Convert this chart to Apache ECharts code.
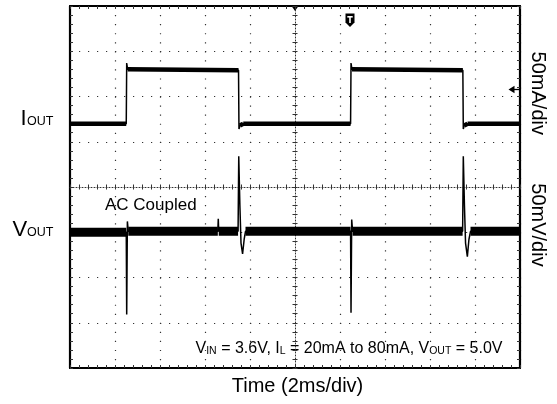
<!DOCTYPE html>
<html>
<head>
<meta charset="utf-8">
<script src="https://cdn.jsdelivr.net/npm/echarts@6/dist/echarts.min.js"></script>
<style>
  html, body { margin: 0; background: #fff; }
  #chart { width: 557px; height: 404px; }
</style>
</head>
<body>
<div id="chart"></div>
<script>
// load step 20mA <-> 80mA, time in ms (2 ms/div, 10 div)
const iTime = [0, 2.50, 2.52, 2.56, 7.49, 7.51, 7.55, 7.70, 12.47, 12.49, 12.53, 17.46, 17.48, 17.52, 17.67, 20];
const iOut = [20, 20, 87, 80, 79, 14, 18, 20, 20, 87, 80, 79, 14, 18, 20, 20]; // mA

// output ripple, AC coupled, mV
const vTime = [0, 2.50, 2.52, 2.55, 2.59, 6.57, 6.59, 6.61, 7.47, 7.50, 7.55, 7.60, 7.67, 7.74, 7.80,
  12.47, 12.49, 12.52, 12.56, 17.45, 17.48, 17.53, 17.58, 17.66, 17.73, 17.80, 20];
const vOut = [0, 0, -91, 12, 1, 1, 15, 1, 1, 84, 30, -12, -24, -8, 1,
  1, -89, 14, 1, 1, 84, 30, -12, -27, -8, 1, 1];

const F = "'Liberation Sans', Arial, sans-serif";
const black = "#000";
const dotGrey = "#333";

function zip(t, v) {
  return t.map((x, k) => [x, v[k]]);
}

// flat parts of a trace get the thick "noise" band, edges and spikes stay thin
function flatParts(t, v, tol) {
  const out = [];
  for (let k = 0; k < t.length - 1; k++) {
    if (Math.abs(v[k + 1] - v[k]) <= tol) {
      out.push([t[k], v[k]], [t[k + 1], v[k + 1]], [t[k + 1], "-"]);
    }
  }
  return out;
}

function edgeAxis(position, max, interval, split, dash) {
  return {
    type: "value",
    position: position,
    min: 0,
    max: max,
    interval: interval,
    axisLine: { show: true, onZero: false, lineStyle: { color: black, width: 2.2 } },
    axisTick: { show: true, inside: true, length: 3, lineStyle: { color: dotGrey } },
    minorTick: { show: true, splitNumber: 5, length: 3, lineStyle: { color: dotGrey } },
    axisLabel: { show: false },
    splitLine: { show: split, lineStyle: { color: dotGrey, width: 1.2, type: dash } },
  };
}

function centerAxis(position, max, interval, helper, inside, line) {
  return {
    type: "value",
    position: position,
    min: 0,
    max: max,
    interval: interval,
    axisLine: {
      show: line,
      onZero: true,
      onZeroAxisIndex: helper,
      lineStyle: { color: dotGrey, width: 1, type: [1, 2] },
    },
    axisTick: { show: true, inside: inside, length: 2.5, lineStyle: { color: dotGrey } },
    minorTick: { show: true, splitNumber: 5, length: 2.5, lineStyle: { color: dotGrey } },
    axisLabel: { show: false },
    splitLine: { show: false },
  };
}

function hiddenAxis(min, max) {
  return { type: "value", min: min, max: max, show: false, axisLine: { onZero: false } };
}

function txt(x, y, text, size, align) {
  return {
    type: "text",
    x: x,
    y: y,
    style: {
      text: text,
      fontSize: size,
      fontFamily: F,
      fill: black,
      align: align || "left",
      verticalAlign: "middle",
    },
  };
}

function sideTxt(y, text) {
  const el = txt(537.6, y, text, 20, "center");
  el.rotation = -Math.PI / 2;
  return el;
}

const options = {
  animation: false,
  backgroundColor: "#fff",
  grid: { left: 70, right: 37, top: 6, bottom: 36, containLabel: false, outerBoundsMode: "none" },
  xAxis: [
    edgeAxis("bottom", 20, 2, true, [1.2, 7.85]),
    edgeAxis("top", 20, 2, false),
    centerAxis("bottom", 20, 2, 4, true, true),
    centerAxis("bottom", 20, 2, 4, false, false),
    hiddenAxis(-10, 10),
  ],
  yAxis: [
    edgeAxis("left", 8, 1, true, [1.2, 7.8]),
    edgeAxis("right", 8, 1, false),
    hiddenAxis(-250, 150), // current, 50 mA/div
    hiddenAxis(-150, 250), // voltage, 50 mV/div
    hiddenAxis(-4, 4),
    centerAxis("left", 8, 1, 4, true, true),
    centerAxis("left", 8, 1, 4, false, false),
  ],
  series: [
    {
      name: "IOUT band",
      type: "line",
      xAxisIndex: 0,
      yAxisIndex: 2,
      data: flatParts(iTime, iOut, 2),
      symbol: "none",
      lineStyle: { color: black, width: 4.5 },
      silent: true,
      z: 3,
    },
    {
      name: "IOUT",
      type: "line",
      xAxisIndex: 0,
      yAxisIndex: 2,
      data: zip(iTime, iOut),
      symbol: "none",
      lineStyle: { color: black, width: 1.5 },
      silent: true,
      z: 4,
    },
    {
      name: "VOUT band",
      type: "line",
      xAxisIndex: 0,
      yAxisIndex: 3,
      data: flatParts(vTime, vOut, 1.5),
      symbol: "none",
      lineStyle: { color: black, width: 9 },
      silent: true,
      z: 3,
    },
    {
      name: "VOUT",
      type: "line",
      xAxisIndex: 0,
      yAxisIndex: 3,
      data: zip(vTime, vOut),
      symbol: "none",
      lineStyle: { color: black, width: 1.5 },
      silent: true,
      z: 4,
    },
  ],
  graphic: {
    elements: [
      txt(20.5, 126.3 - 7.62, "I", 22),
      txt(27, 126.3 - 4.33, "OUT", 12.5),
      txt(12.5, 237.2 - 7.62, "V", 22),
      txt(27, 237.2 - 4.33, "OUT", 12.5),
      txt(105, 205.1, "AC Coupled", 17),
      txt(297.5, 386.4, "Time (2ms/div)", 20, "center"),
      sideTxt(93.3, "50mA/div"),
      sideTxt(225, "50mV/div"),
      {
        type: "text",
        x: 502.5,
        y: 356.8,
        style: {
          text: "{m|V}{s|IN}{m| = 3.6V, I}{s|L}{m| = 20mA to 80mA, V}{s|OUT}{m| = 5.0V}",
          fontFamily: F,
          fill: black,
          align: "right",
          verticalAlign: "bottom",
          rich: {
            m: { fontSize: 16, fontFamily: F, verticalAlign: "bottom" },
            s: { fontSize: 10.5, fontFamily: F, verticalAlign: "bottom" },
          },
        },
      },
      // trigger position marker
      {
        type: "polygon",
        shape: { points: [[291.5, 6], [298.5, 6], [295, 11]] },
        style: { fill: black },
      },
      // trigger "T" marker
      {
        type: "polygon",
        shape: { points: [[345.5, 13.5], [354.5, 13.5], [354.5, 22.5], [350, 27], [345.5, 22.5]] },
        style: { fill: black },
      },
      { type: "rect", shape: { x: 347.3, y: 16, width: 5.4, height: 1.6 }, style: { fill: "#fff" } },
      { type: "rect", shape: { x: 349.2, y: 16, width: 1.6, height: 7 }, style: { fill: "#fff" } },
      // trigger level arrow
      {
        type: "polygon",
        shape: { points: [[508.5, 89.5], [514.5, 85.8], [514.5, 93.2]] },
        style: { fill: black },
      },
      {
        type: "line",
        shape: { x1: 513, y1: 89.5, x2: 519, y2: 89.5 },
        style: { stroke: black, lineWidth: 1.3 },
      },
    ],
  },
};

const myChart = echarts.init(document.getElementById("chart"));
myChart.setOption(options);
</script>
</body>
</html>
